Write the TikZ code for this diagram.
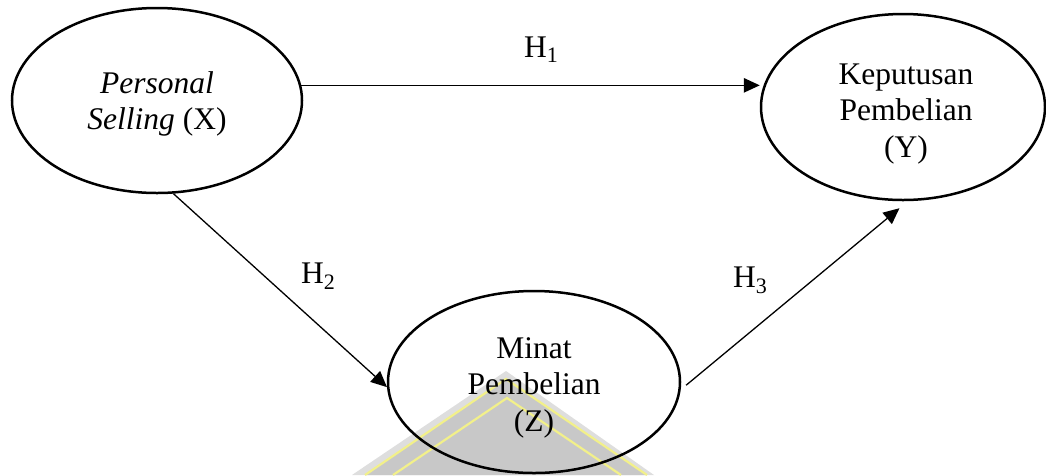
\documentclass[tikz,border=0pt]{standalone}
\usepackage{fontspec}
\setmainfont{Liberation Serif}
\usetikzlibrary{arrows.meta,shapes.geometric}
\definecolor{markgray}{HTML}{C8C8C8}
\definecolor{marklight}{HTML}{DEDEDE}
\definecolor{markyellow}{HTML}{F2F08A}
\begin{document}
\begin{tikzpicture}[x=1pt,y=-1pt,
  var/.style={ellipse, draw, line width=2.5pt, inner sep=0pt},
  vtext/.style={align=center, font=\fontsize{31.5}{36.5}\selectfont, inner sep=0pt},
  hyp/.style={font=\fontsize{31.5}{36.5}\selectfont, inner sep=0pt, anchor=base west},
  conn/.style={line width=1.3pt, -{Triangle[length=16pt,width=14.5pt]}}]
\useasboundingbox (0,0) rectangle (1046,475);
% faint emblem in the background
\begin{scope}
  \clip (0,0) rectangle (1046,475);
  \fill[marklight] (506,371) -- (352,475) -- (654,475) -- cycle;
  \fill[markgray] (506,379) -- (365,475) -- (647,475) -- cycle;
  \draw[markyellow, line width=2.2pt] (365,475) -- (506,379) -- (647,475);
  \draw[markyellow, line width=2.2pt] (393,475) -- (507,398) -- (621,475);
\end{scope}
% variables
\node[var, minimum width=290pt, minimum height=185pt] (X) at (157,100.5) {};
\node[var, minimum width=284pt, minimum height=186pt] (Y) at (903,107) {};
\node[var, minimum width=292pt, minimum height=182pt] (Z) at (534,382) {};
\node[vtext] (Xt) at (157,104) {\textit{Personal}\\\textit{Selling} (X)};
\node[vtext] (Yt) at (906,113.9) {Keputusan\\Pembelian\\(Y)};
\node[vtext] (Zt) at (534,387.5) {Minat\\Pembelian\\(Z)};
% hypotheses
\draw[conn] (X.6.8) -- (X.6.8 -| Y.west);
\draw[conn] (X.-80) -- (Z.182);
\draw[conn, shorten <=7pt, shorten >=11pt] (Z.-3) -- (Y.-87);
\node[hyp] (H1) at (524,57) {H\textsubscript{1}};
\node[hyp] (H2) at (301,283) {H\textsubscript{2}};
\node[hyp] (H3) at (733,287) {H\textsubscript{3}};
\end{tikzpicture}
\end{document}
